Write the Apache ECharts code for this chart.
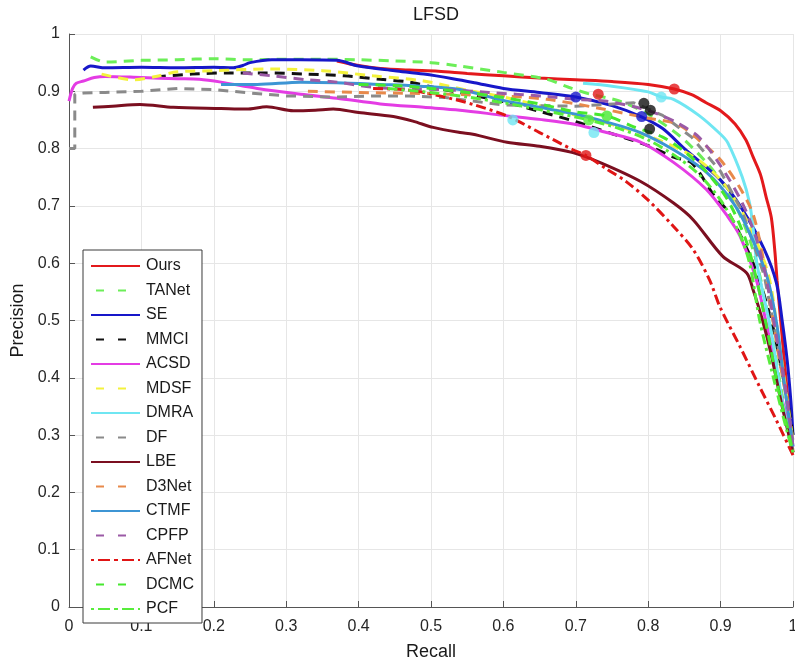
<!DOCTYPE html>
<html>
<head>
<meta charset="utf-8">
<title>LFSD</title>
<script src="https://cdn.jsdelivr.net/npm/echarts@6/dist/echarts.min.js"></script>
<style>
  html, body { margin: 0; padding: 0; background: #fff; }
  #chart { width: 795px; height: 668px; }
</style>
</head>
<body>
<div id="chart"></div>
<script>
// Precision-recall curves on LFSD, each point is [recall, precision]
const ours  = [[0.37,0.953],[0.40,0.945],[0.43,0.940],[0.47,0.937],[0.51,0.935],[0.55,0.931],[0.60,0.927],[0.65,0.923],[0.70,0.920],[0.75,0.917],[0.80,0.912],[0.836,0.904],[0.86,0.894],[0.88,0.880],[0.90,0.866],[0.92,0.843],[0.935,0.815],[0.945,0.785],[0.955,0.755],[0.963,0.715],[0.970,0.680],[0.975,0.620],[0.978,0.570],[0.983,0.500],[0.988,0.430],[0.994,0.350],[1.0,0.27]];
const tanet = [[0.03,0.960],[0.05,0.951],[0.10,0.954],[0.15,0.955],[0.20,0.957],[0.25,0.955],[0.30,0.956],[0.35,0.956],[0.40,0.955],[0.45,0.953],[0.50,0.950],[0.54,0.944],[0.60,0.933],[0.66,0.921],[0.69,0.907],[0.72,0.895],[0.76,0.883],[0.80,0.860],[0.85,0.815],[0.90,0.745],[0.93,0.675],[0.95,0.600],[0.97,0.480],[0.985,0.370],[1.0,0.27]];
const se    = [[0.02,0.937],[0.03,0.944],[0.05,0.941],[0.10,0.942],[0.15,0.941],[0.20,0.942],[0.227,0.941],[0.24,0.945],[0.25,0.950],[0.28,0.955],[0.32,0.955],[0.37,0.954],[0.40,0.944],[0.45,0.936],[0.49,0.930],[0.53,0.922],[0.56,0.915],[0.60,0.905],[0.65,0.898],[0.70,0.890],[0.75,0.875],[0.79,0.856],[0.82,0.835],[0.85,0.800],[0.90,0.745],[0.93,0.694],[0.96,0.625],[0.977,0.566],[0.985,0.500],[0.992,0.430],[0.997,0.360],[1.0,0.30]];
const mmci  = [[0.12,0.925],[0.17,0.930],[0.22,0.932],[0.27,0.932],[0.33,0.930],[0.38,0.927],[0.43,0.921],[0.47,0.916],[0.51,0.905],[0.55,0.895],[0.60,0.882],[0.65,0.865],[0.70,0.847],[0.75,0.826],[0.80,0.805],[0.835,0.785],[0.86,0.775],[0.89,0.720],[0.91,0.690],[0.945,0.600],[0.97,0.500],[0.985,0.410],[0.995,0.340],[1.0,0.30]];
const acsd  = [[0,0.883],[0.005,0.905],[0.01,0.914],[0.02,0.918],[0.035,0.924],[0.05,0.926],[0.10,0.924],[0.15,0.922],[0.18,0.921],[0.21,0.916],[0.26,0.905],[0.32,0.895],[0.37,0.888],[0.43,0.878],[0.49,0.872],[0.54,0.867],[0.60,0.858],[0.65,0.851],[0.70,0.842],[0.74,0.829],[0.79,0.811],[0.835,0.776],[0.88,0.729],[0.91,0.681],[0.927,0.647],[0.948,0.577],[0.964,0.490],[0.98,0.390],[0.993,0.320],[1.0,0.28]];
const mdsf  = [[0.045,0.930],[0.09,0.920],[0.12,0.926],[0.15,0.934],[0.20,0.936],[0.28,0.939],[0.35,0.936],[0.42,0.927],[0.49,0.918],[0.55,0.902],[0.60,0.890],[0.65,0.875],[0.70,0.858],[0.75,0.842],[0.80,0.822],[0.85,0.795],[0.88,0.770],[0.91,0.730],[0.94,0.665],[0.966,0.580],[0.98,0.470],[0.99,0.380],[1.0,0.29]];
const dmra  = [[0.71,0.914],[0.75,0.909],[0.80,0.899],[0.818,0.890],[0.835,0.886],[0.87,0.858],[0.90,0.825],[0.91,0.810],[0.93,0.750],[0.94,0.705],[0.945,0.660],[0.95,0.600],[0.96,0.540],[0.97,0.480],[0.985,0.360],[1.0,0.27]];
const df    = [[0,0.800],[0.008,0.800],[0.008,0.895],[0.02,0.897],[0.05,0.898],[0.10,0.900],[0.15,0.905],[0.20,0.903],[0.25,0.897],[0.30,0.892],[0.37,0.890],[0.42,0.892],[0.47,0.892],[0.52,0.889],[0.60,0.876],[0.70,0.874],[0.78,0.880],[0.82,0.858],[0.86,0.820],[0.90,0.760],[0.93,0.690],[0.96,0.580],[0.98,0.450],[1.0,0.29]];
const lbe   = [[0.033,0.872],[0.06,0.874],[0.098,0.877],[0.144,0.872],[0.21,0.870],[0.245,0.869],[0.273,0.873],[0.31,0.866],[0.34,0.867],[0.365,0.869],[0.40,0.863],[0.448,0.856],[0.475,0.848],[0.503,0.837],[0.54,0.828],[0.558,0.825],[0.605,0.811],[0.65,0.804],[0.696,0.793],[0.733,0.776],[0.789,0.743],[0.835,0.705],[0.862,0.676],[0.903,0.612],[0.936,0.583],[0.945,0.553],[0.958,0.500],[0.97,0.440],[0.985,0.350],[1.0,0.27]];
const d3net = [[0.33,0.900],[0.40,0.898],[0.45,0.897],[0.50,0.896],[0.55,0.894],[0.60,0.892],[0.66,0.886],[0.73,0.871],[0.80,0.853],[0.84,0.843],[0.87,0.815],[0.90,0.780],[0.925,0.735],[0.945,0.685],[0.96,0.600],[0.97,0.520],[0.98,0.440],[0.99,0.370],[1.0,0.28]];
const ctmf  = [[0.21,0.912],[0.26,0.912],[0.32,0.916],[0.37,0.915],[0.43,0.912],[0.485,0.909],[0.54,0.903],[0.60,0.884],[0.65,0.872],[0.70,0.860],[0.743,0.846],[0.789,0.828],[0.835,0.798],[0.881,0.758],[0.917,0.706],[0.94,0.653],[0.964,0.577],[0.978,0.490],[0.99,0.370],[1.0,0.28]];
const cpfp  = [[0.24,0.932],[0.28,0.927],[0.33,0.920],[0.37,0.916],[0.42,0.907],[0.47,0.904],[0.52,0.903],[0.58,0.898],[0.66,0.891],[0.70,0.886],[0.74,0.883],[0.79,0.870],[0.82,0.857],[0.84,0.845],[0.87,0.820],[0.90,0.770],[0.93,0.705],[0.95,0.640],[0.965,0.560],[0.98,0.450],[0.99,0.380],[1.0,0.28]];
const afnet = [[0.42,0.905],[0.47,0.902],[0.512,0.892],[0.558,0.877],[0.605,0.857],[0.65,0.828],[0.696,0.798],[0.714,0.788],[0.743,0.764],[0.77,0.742],[0.80,0.710],[0.835,0.664],[0.862,0.624],[0.885,0.570],[0.899,0.524],[0.927,0.454],[0.954,0.384],[0.977,0.326],[1.0,0.265]];
const dcmc  = [[0.40,0.912],[0.45,0.910],[0.50,0.905],[0.55,0.898],[0.60,0.889],[0.65,0.878],[0.70,0.864],[0.743,0.857],[0.78,0.838],[0.82,0.820],[0.85,0.795],[0.88,0.760],[0.91,0.710],[0.935,0.640],[0.95,0.570],[0.965,0.480],[0.98,0.380],[0.993,0.310],[1.0,0.27]];
const pcf   = [[0.44,0.905],[0.50,0.898],[0.55,0.890],[0.60,0.880],[0.65,0.868],[0.70,0.855],[0.718,0.850],[0.76,0.835],[0.80,0.815],[0.84,0.785],[0.87,0.755],[0.90,0.710],[0.925,0.655],[0.94,0.600],[0.954,0.500],[0.973,0.400],[0.991,0.310],[1.0,0.27]];

// Best operating points: [recall, precision, method whose colour is used]
const bestPoints = [
  [0.836, 0.904, 'Ours'], [0.731, 0.895, 'Ours'], [0.700, 0.890, 'SE'],
  [0.818, 0.890, 'DMRA'], [0.794, 0.879, 'MMCI'], [0.803, 0.867, 'MMCI'],
  [0.791, 0.856, 'SE'], [0.802, 0.834, 'MMCI'], [0.718, 0.850, 'PCF'],
  [0.743, 0.857, 'DCMC'], [0.613, 0.850, 'DMRA'], [0.725, 0.828, 'DMRA'],
  [0.714, 0.788, 'AFNet']
];

const methods = ['Ours','TANet','SE','MMCI','ACSD','MDSF','DMRA','DF','LBE','D3Net','CTMF','CPFP','AFNet','DCMC','PCF'];
const curves  = [ours, tanet, se, mmci, acsd, mdsf, dmra, df, lbe, d3net, ctmf, cpfp, afnet, dcmc, pcf];
const xTicks  = { min: 0, max: 1, step: 0.1 };
const yTicks  = { min: 0, max: 1, step: 0.1 };

const FONT = "'Liberation Sans', Arial, Helvetica, sans-serif";
const DASH = [10, 7];
const DASHDOT = [10, 4, 3, 4];
const style = {
  Ours:  { color: '#e3191c', type: 'solid' },
  TANet: { color: '#6cee58', type: DASH },
  SE:    { color: '#1717c9', type: 'solid' },
  MMCI:  { color: '#111111', type: DASH },
  ACSD:  { color: '#e43ce4', type: 'solid' },
  MDSF:  { color: '#f3f23c', type: DASH },
  DMRA:  { color: '#6fe6f2', type: 'solid' },
  DF:    { color: '#8a8a8a', type: DASH },
  LBE:   { color: '#7b0f20', type: 'solid' },
  D3Net: { color: '#e8894a', type: DASH },
  CTMF:  { color: '#3d95d4', type: 'solid' },
  CPFP:  { color: '#9b5aa6', type: DASH },
  AFNet: { color: '#e01515', type: DASHDOT },
  DCMC:  { color: '#46e82f', type: DASH },
  PCF:   { color: '#58ec3c', type: DASHDOT }
};
// Legend samples use a longer, sparser pattern
const legendDash = { lineDash: [8, 14], offset: 17 };

const series = methods.map((name, i) => ({
  type: 'line',
  name: name,
  data: curves[i],
  symbol: 'none',
  showSymbol: false,
  smooth: name === 'DF' ? false : 0.3,
  lineStyle: { color: style[name].color, width: 3, type: style[name].type, cap: 'butt' },
  itemStyle: { color: style[name].color },
  emphasis: { disabled: true },
  silent: true,
  z: 2
}));

series.push({
  type: 'scatter',
  name: 'best',
  data: bestPoints.map(p => ({ value: [p[0], p[1]], itemStyle: { color: style[p[2]].color } })),
  symbolSize: 11,
  z: 5,
  silent: true
});

const legendData = methods.map(name => {
  const t = style[name].type;
  let ls;
  if (t === DASH) ls = { type: legendDash.lineDash, dashOffset: legendDash.offset };
  else if (t === DASHDOT) ls = { type: [12, 4, 4, 4] };
  return ls ? { name: name, lineStyle: ls } : { name: name };
});

const chart = echarts.init(document.getElementById('chart'), null, { renderer: 'canvas' });
chart.setOption({
  animation: false,
  backgroundColor: '#ffffff',
  title: {
    text: 'LFSD',
    left: 431,
    textAlign: 'center',
    top: 1,
    textStyle: { fontFamily: FONT, fontSize: 18, fontWeight: 'normal', color: '#1a1a1a' }
  },
  grid: { left: 69, right: 2, top: 34, bottom: 61, containLabel: false, outerBoundsMode: 'none' },
  legend: {
    orient: 'vertical',
    left: 83,
    top: 250,
    data: legendData,
    itemWidth: 49,
    itemHeight: 14,
    itemGap: 8.5,
    padding: [8, 8, 6, 7],
    borderColor: '#3a3a3a',
    borderWidth: 1,
    backgroundColor: '#ffffff',
    itemStyle: { opacity: 0 },
    selectedMode: false,
    textStyle: { fontFamily: FONT, fontSize: 16, color: '#1a1a1a', padding: [0, 0, 0, 1] }
  },
  xAxis: {
    type: 'value',
    min: xTicks.min, max: xTicks.max, interval: xTicks.step,
    name: 'Recall',
    nameLocation: 'middle',
    nameGap: 36,
    nameTextStyle: { fontFamily: FONT, fontSize: 18, color: '#1a1a1a' },
    axisLine: { show: true, onZero: false, lineStyle: { color: '#555', width: 1 } },
    axisTick: { show: true, inside: true, length: 6, lineStyle: { color: '#555' } },
    axisLabel: {
      fontFamily: FONT, fontSize: 16, color: '#262626', margin: 12,
      formatter: v => String(+v.toFixed(1))
    },
    splitLine: { show: true, lineStyle: { color: '#e6e6e6', width: 1 } }
  },
  yAxis: {
    type: 'value',
    min: yTicks.min, max: yTicks.max, interval: yTicks.step,
    name: 'Precision',
    nameLocation: 'middle',
    nameGap: 42,
    nameRotate: 90,
    nameTextStyle: { fontFamily: FONT, fontSize: 18, color: '#1a1a1a' },
    axisLine: { show: true, onZero: false, lineStyle: { color: '#555', width: 1 } },
    axisTick: { show: true, inside: true, length: 6, lineStyle: { color: '#555' } },
    axisLabel: {
      fontFamily: FONT, fontSize: 16, color: '#262626', margin: 9,
      formatter: v => String(+v.toFixed(1))
    },
    splitLine: { show: true, lineStyle: { color: '#e6e6e6', width: 1 } }
  },
  series: series
});
</script>
</body>
</html>
